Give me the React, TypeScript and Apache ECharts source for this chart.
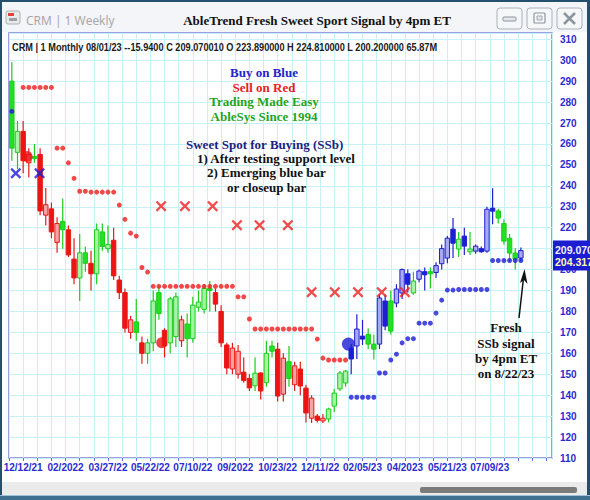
import React, { useEffect, useRef } from "react";
import * as echarts from "echarts";

// Weekly CRM bars, oldest first (week of 11/28/21 .. week of 08/20/23)
const OPEN = [
  290, 256, 266, 251, 254, 255, 226, 229, 213, 223,
  219, 205, 196, 208, 203, 198, 218, 210, 214, 195,
  189, 170, 175, 165, 160, 165, 189, 171, 165, 168,
  166, 174, 167, 182, 181, 191, 189, 180, 164, 152.5,
  150, 151, 148, 144.5, 150.6, 146, 163.5, 162, 140.5, 156,
  145, 152.5, 143.4, 129, 130, 127.7, 128.6, 134.8, 143, 145.8,
  162.5, 163.5, 168.2, 169, 164.4, 164.4, 185, 185, 184, 188.8,
  198, 188.8, 195.4, 199, 199, 198.6, 202.8, 205.5, 219.3, 209.8,
  216, 208.5, 208.8, 210, 208.8, 229.3, 228, 222, 215, 207.9,
  205.5,
];
const CLOSE = [
  258, 266, 252, 255, 253, 228, 231, 218, 222, 219,
  207, 196, 208, 203, 198, 219, 211, 212, 197, 189,
  172, 176, 170, 160, 165, 185, 179, 163.5, 186, 187,
  176, 167, 183, 184.5, 191, 190, 183.5, 165, 153, 162.5,
  161, 147, 143.5, 150.5, 142, 160, 161, 139.6, 157.7, 148,
  154, 144.4, 131.5, 138.6, 128, 129, 133.4, 141, 150.6, 151.5,
  157.3, 171.6, 166.8, 164.4, 162, 186.4, 173, 170.6, 190.7, 200,
  193, 194.5, 199.3, 197.5, 198, 201.9, 210, 215, 212.6, 214.5,
  211.2, 209.8, 211.2, 208.5, 228.8, 227.9, 224.6, 213.6, 207.9, 205,
  209.07,
];
const HIGH = [
  299, 271, 271, 258, 260, 258, 239, 232, 225, 234,
  221, 215, 217, 211, 209, 222, 222, 221, 220, 197,
  191, 178, 186, 168, 167, 190, 192, 172, 187, 189,
  178, 179, 187, 190, 193, 194.5, 191, 183, 165, 165,
  164, 158, 150, 158, 151, 166, 166, 165, 160, 163.5,
  156, 156, 145, 140, 131, 131, 134, 143, 151.5, 152,
  164.4, 178.7, 176, 172, 169, 188, 188, 190, 193, 200.5,
  200, 199, 200, 201, 201, 203.5, 212, 216, 224.6, 218,
  220, 218, 212, 211, 230, 238.9, 229, 224, 217, 210.2,
  210.5,
];
const LOW = [
  252, 248, 246, 244, 251, 226, 221, 215, 208, 210,
  206, 193, 185, 199, 190, 193, 209, 208, 195, 186,
  170, 167, 166, 155, 155, 161, 176, 158, 160, 163,
  163, 158, 165, 180, 179, 180, 180, 163, 150, 150,
  148, 146, 142, 142, 138, 144, 158, 137, 137, 144,
  142, 140, 127, 126.7, 127, 126.7, 127, 132, 142, 144,
  150, 157.3, 164, 162, 157, 162, 171, 169, 182, 186,
  189, 188, 194, 190, 191, 196, 200, 203, 205.5, 206,
  207, 207, 207.5, 208, 208, 221.7, 222, 212, 204, 200,
  204,
];
// AbleTrend bar colour: g = green, r = red, b = blue
const TREND = (
  "ggrrgrrrrg" + "rrggrgggrr" + "rrgrgggrgg" + "rgggggrrrr" + "rrrgrggrrg" +
  "rrrrrrgggg" + "bbbggbbgbb" + "bgbbgbbbbg" + "bgbbbbgggg" + "b"
).split("");

// Red trend stops (above price), one value per bar; null where none
const RED_STOP = [
  null, null, 287, 287, 287, 287, 287, 287, 258, 258,
  251, 243.6, 237.4, 237.4, 237, 237, 237, 237, 237, 230.8,
  224, 217.4, 216, 201, 198.8, 192, 192, 192, 192, 192,
  192, 192, 192, 192, 192, 192, 192, 192, 192, 192,
  187, 187, 176.4, 171.6, 171.6, 171.6, 171.6, 171.6, 171.6, 171.6,
  171.6, 171.6, 171.6, 171.6, 166.8, 157.7, 156.8, 156.8, 156.8, 156.8,
];
// Blue trend stops (below price) from bar 60 on
const BLUE_STOP_START = 60;
const BLUE_STOP = [
  139, 139, 139, 139, 139, 150.6, 150.6, 156.8, 159.6, 165,
  167, 167, 174.4, 174.4, 174.4, 179.2, 185.4, 190.2, 190.2, 190.5,
  190.5, 190.5, 190.5, 190.5, 190.5, 204.317, 204.317, 204.317, 204.317, 204.317,
  204.317,
];

// Sell-side and buy-side "X" signals: [bar, price]
const RED_X = [
  [26.4, 230.3], [30.6, 230.3], [35.5, 230.3],
  [39.8, 221.2], [43.8, 221.2], [48.8, 221.2],
  [53, 189.2], [57.1, 189.2], [61.2, 189.2], [65.4, 189.2], [69.5, 189.2],
];
const BLUE_X = [[0.7, 246], [4.9, 246]];
// Large signal dots: [bar, price]
const RED_SIGNAL = [[2.7, 254], [26.5, 165]];
const BLUE_SIGNAL = [[59.5, 164.4]];
const BLUE_MARK = [[0, 275.6]];

const TICK_LABELS = [
  "12/12/21", "02/2022", "03/27/22", "05/22/22", "07/10/22", "09/2022",
  "10/23/22", "12/11/22", "02/05/23", "04/2023", "05/21/23", "07/09/23",
];

const LAST_CLOSE = CLOSE[CLOSE.length - 1];
const LAST_STOP = BLUE_STOP[BLUE_STOP.length - 1];

const PALETTE: Record<string, { solid: string; light: string; line: string }> = {
  g: { solid: "#22e022", light: "#a6f5a6", line: "#1ccc1c" },
  r: { solid: "#ee1414", light: "#f7a3a3", line: "#e81818" },
  b: { solid: "#1e1ed8", light: "#a9a9f2", line: "#2020d0" },
};

const NARROW = '"Liberation Sans Narrow", "Arial Narrow", "Liberation Sans", Arial, sans-serif';
const SERIF = '"Liberation Serif", "Times New Roman", serif';

const X_CROSS =
  "path://M1.5,0 L5,3.5 L8.5,0 L10,1.5 L6.5,5 L10,8.5 L8.5,10 L5,6.5 L1.5,10 L0,8.5 L3.5,5 L0,1.5 Z";

function chrome(): any[] {
  const frame = "#24506e";
  const btn = (x: number, icon: any[]) => ({
    type: "group",
    children: [
      {
        type: "rect",
        shape: { x, y: 8, width: 25, height: 21, r: 3 },
        style: { fill: "#f6f7f9", stroke: "#a9b2ba", lineWidth: 1 },
      },
      ...icon,
    ],
  });
  return [
    { type: "rect", shape: { x: 0, y: 0, width: 590, height: 32 }, style: { fill: "#f3f5f8" } },
    { type: "rect", shape: { x: 0, y: 0, width: 590, height: 2 }, style: { fill: frame } },
    { type: "rect", shape: { x: 0, y: 0, width: 2, height: 500 }, style: { fill: frame } },
    { type: "rect", shape: { x: 587, y: 0, width: 3, height: 500 }, style: { fill: frame } },
    // app icon
    { type: "rect", shape: { x: 6, y: 11, width: 14, height: 13, r: 2 }, style: { fill: "#e9e9e9", stroke: "#b0b0b0" } },
    { type: "rect", shape: { x: 8, y: 13, width: 6, height: 3 }, style: { fill: "#e04040" } },
    { type: "rect", shape: { x: 9, y: 18, width: 8, height: 3 }, style: { fill: "#9aa0a6" } },
    {
      type: "text",
      style: { text: "CRM | 1 Weekly", x: 26, y: 20, fill: "#a4a4a4", fontSize: 12, fontFamily: '"Open Sans", "Noto Sans", sans-serif', textVerticalAlign: "middle" },
    },
    {
      type: "text",
      style: { text: "AbleTrend Fresh Sweet Sport Signal by 4pm ET", x: 317, y: 20, fill: "#111", fontSize: 13, fontWeight: "bold", fontFamily: SERIF, textAlign: "center", textVerticalAlign: "middle" },
    },
    btn(497, [
      { type: "rect", shape: { x: 503, y: 17, width: 13, height: 4, r: 1 }, style: { fill: "#e4e8ec", stroke: "#8b959e" } },
    ]),
    btn(527, [
      { type: "rect", shape: { x: 534, y: 13, width: 11, height: 10, r: 1 }, style: { fill: "none", stroke: "#8b959e", lineWidth: 1.2 } },
      { type: "rect", shape: { x: 537, y: 16, width: 5, height: 4 }, style: { fill: "#e4e8ec", stroke: "#a0a8b0" } },
    ]),
    btn(557, [
      { type: "line", shape: { x1: 564, y1: 13, x2: 575, y2: 24 }, style: { stroke: "#8b959e", lineWidth: 2.5 } },
      { type: "line", shape: { x1: 575, y1: 13, x2: 564, y2: 24 }, style: { stroke: "#8b959e", lineWidth: 2.5 } },
    ]),
    // bottom status / scrollbar strip
    { type: "rect", shape: { x: 2, y: 482, width: 585, height: 14 }, style: { fill: "#ebebeb" } },
    { type: "rect", shape: { x: 420, y: 487, width: 157, height: 6, r: 2 }, style: { fill: "#7b7b7b" } },
    { type: "rect", shape: { x: 0, y: 495, width: 590, height: 5 }, style: { fill: "#3f7090" } },
    { type: "rect", shape: { x: 0, y: 495, width: 590, height: 1 }, style: { fill: "#9fc0d6" } },
  ];
}

function notes(): any[] {
  const t = (text: string, x: number, y: number, fill: string, align = "center", size = 13) => ({
    type: "text",
    z: 50,
    style: { text, x, y, fill, fontSize: size, fontWeight: "bold", fontFamily: SERIF, textAlign: align, textVerticalAlign: "middle" },
  });
  return [
    {
      type: "text",
      z: 50,
      x: 12,
      y: 47,
      scaleX: 0.875,
      style: {
        text: "CRM | 1 Monthly 08/01/23 --15.9400 C 209.070010 O 223.890000 H 224.810000 L 200.200000 65.87M",
        x: 0, y: 0, fill: "#1a1a1a", fontSize: 10.5, fontWeight: "bold", fontFamily: NARROW, textVerticalAlign: "middle",
      },
    },
    t("Buy on Blue", 264, 72, "#2424c8"),
    t("Sell on Red", 264, 87, "#e82222"),
    t("Trading Made Easy", 264, 101, "#23a523"),
    t("AbleSys Since 1994", 264, 116, "#23a523"),
    t("Sweet Spot for Buying (SSb)", 186, 144, "#1e1e80", "left"),
    t("1) After testing support level", 197, 158, "#111", "left"),
    t("2) Emerging blue bar", 207, 172, "#111", "left"),
    t("or closeup bar", 227, 187, "#111", "left"),
    t("Fresh", 506, 327, "#111"),
    t("SSb signal", 506, 343, "#111"),
    t("by 4pm ET", 506, 358, "#111"),
    t("on 8/22/23", 506, 373, "#111"),
    { type: "line", z: 50, shape: { x1: 519, y1: 318, x2: 523.5, y2: 278 }, style: { stroke: "#111", lineWidth: 1.5 } },
    { type: "polygon", z: 50, shape: { points: [[524.5, 269], [520, 283], [524, 280], [527.5, 284]] }, style: { fill: "#111" } },
  ];
}

export default function App() {
  const ref = useRef<HTMLDivElement>(null);

  useEffect(() => {
    if (!ref.current) return;
    const chart = echarts.init(ref.current, undefined, { renderer: "svg" });

    const bars = OPEN.map((o, i) => [i + 0.5, o, CLOSE[i], LOW[i], HIGH[i], i]);
    const redStops = RED_STOP.map((v, i) => (v == null ? null : [i + 0.5, v])).filter(Boolean);
    const blueStops = BLUE_STOP.map((v, i) => [BLUE_STOP_START + i + 0.5, v]);
    const at = (pts: number[][]) => pts.map(([b, v]) => [b + 0.5, v]);

    // price tag on the right edge: last close over the current blue stop
    const tagText = `{c|${LAST_CLOSE.toFixed(3)}}\n{s|${LAST_STOP.toFixed(3)}}`;

    chart.setOption({
      animation: false,
      backgroundColor: "#ffffff",
      grid: {
        left: 9, right: 38, top: 33, bottom: 42,
        show: true, borderColor: "#7f7fdc", borderWidth: 1.5, backgroundColor: "#ffffff",
        outerBoundsMode: "none",
      },
      xAxis: {
        type: "value",
        min: 0,
        max: 96,
        interval: 2.5,
        axisLine: { show: false },
        axisTick: { show: true, length: 3, lineStyle: { color: "#6a6ad8" } },
        splitLine: { show: true, lineStyle: { color: "#c8f0f7", width: 1 } },
        axisLabel: {
          margin: 4,
          color: "#2b2bd0",
          fontSize: 10,
          fontWeight: "bold",
          fontFamily: NARROW,
          showMinLabel: true,
          showMaxLabel: false,
          formatter: (v: number) => {
            const k = (v - 2.5) / 7.5;
            const r = Math.round(k);
            return Math.abs(k - r) < 1e-6 && r >= 0 && r < TICK_LABELS.length ? TICK_LABELS[r] : "";
          },
        },
      },
      yAxis: {
        type: "value",
        position: "right",
        min: 110,
        max: 313,
        interval: 10,
        axisLine: { show: false },
        axisTick: { show: false },
        splitLine: { show: true, lineStyle: { color: "#c8f0f7", width: 1 } },
        axisLabel: {
          margin: 8,
          color: "#2b2bd0",
          fontSize: 10,
          fontWeight: "bold",
          fontFamily: NARROW,
          showMaxLabel: false,
        },
      },
      graphic: [...chrome(), ...notes()],
      series: [
        {
          type: "custom",
          name: "CRM",
          data: bars,
          encode: { x: 0, y: [1, 2, 3, 4] },
          clip: true,
          z: 3,
          renderItem: (params: any, api: any) => {
            const x = api.value(0);
            const o = api.value(1);
            const c = api.value(2);
            const l = api.value(3);
            const h = api.value(4);
            const idx = api.value(5);
            const pal = PALETTE[TREND[idx]];
            const pO = api.coord([x, o]);
            const pC = api.coord([x, c]);
            const pL = api.coord([x, l]);
            const pH = api.coord([x, h]);
            const w = api.size([1, 0])[0] * 0.78;
            const top = Math.min(pO[1], pC[1]);
            const bot = Math.max(pO[1], pC[1]);
            const hollow = c > o;
            return {
              type: "group",
              children: [
                { type: "line", shape: { x1: pH[0], y1: pH[1], x2: pL[0], y2: pL[1] }, style: { stroke: pal.line, lineWidth: 1.2 } },
                {
                  type: "rect",
                  shape: { x: pO[0] - w / 2, y: top, width: w, height: Math.max(bot - top, 1.5) },
                  style: { fill: hollow ? pal.light : pal.solid, stroke: pal.line, lineWidth: 1 },
                },
              ],
            };
          },
        },
        {
          type: "scatter",
          name: "Red stop",
          data: redStops,
          symbol: "circle",
          symbolSize: 5,
          itemStyle: { color: "#ee1a1a" },
          z: 4,
        },
        {
          type: "scatter",
          name: "Blue stop",
          data: blueStops,
          symbol: "circle",
          symbolSize: 5,
          itemStyle: { color: "#1c1cd6" },
          z: 4,
          markLine: {
            silent: true,
            symbol: "none",
            lineStyle: { color: "rgba(0,0,0,0)", width: 1, type: "solid" },
            label: {
              show: true,
              position: "end",
              distance: 1,
              backgroundColor: "#1c1cd0",
              padding: [3, 2, 3, 2],
              fontWeight: "bold",
              fontFamily: NARROW,
              formatter: tagText,
              rich: {
                c: { color: "#eeeeff", fontSize: 10.5, lineHeight: 12, fontWeight: "bold", fontFamily: NARROW },
                s: { color: "#fff8b0", fontSize: 10.5, lineHeight: 12, fontWeight: "bold", fontFamily: NARROW },
              },
            },
            data: [{ yAxis: (LAST_CLOSE + LAST_STOP) / 2 }],
          },
        },
        {
          type: "scatter",
          name: "Sell X",
          data: at(RED_X),
          symbol: X_CROSS,
          symbolSize: 11,
          itemStyle: { color: "#ee2020" },
          z: 5,
        },
        {
          type: "scatter",
          name: "Buy X",
          data: at(BLUE_X),
          symbol: X_CROSS,
          symbolSize: 11,
          itemStyle: { color: "#1c1cd6" },
          z: 5,
        },
        {
          type: "scatter",
          name: "Red signal",
          data: at(RED_SIGNAL),
          symbol: "circle",
          symbolSize: 11,
          itemStyle: { color: "#ee1414" },
          z: 6,
        },
        {
          type: "scatter",
          name: "Blue signal",
          data: [...at(BLUE_SIGNAL).map((p) => ({ value: p, symbolSize: 13 })), ...at(BLUE_MARK).map((p) => ({ value: p, symbolSize: 5 }))],
          symbol: "circle",
          itemStyle: { color: "#1c1cd6" },
          z: 6,
        },
      ],
    });

    return () => chart.dispose();
  }, []);

  return (
    <div
      ref={ref}
      style={{ position: "fixed", left: 0, top: 0, width: 590, height: 500, background: "#fff" }}
    />
  );
}
